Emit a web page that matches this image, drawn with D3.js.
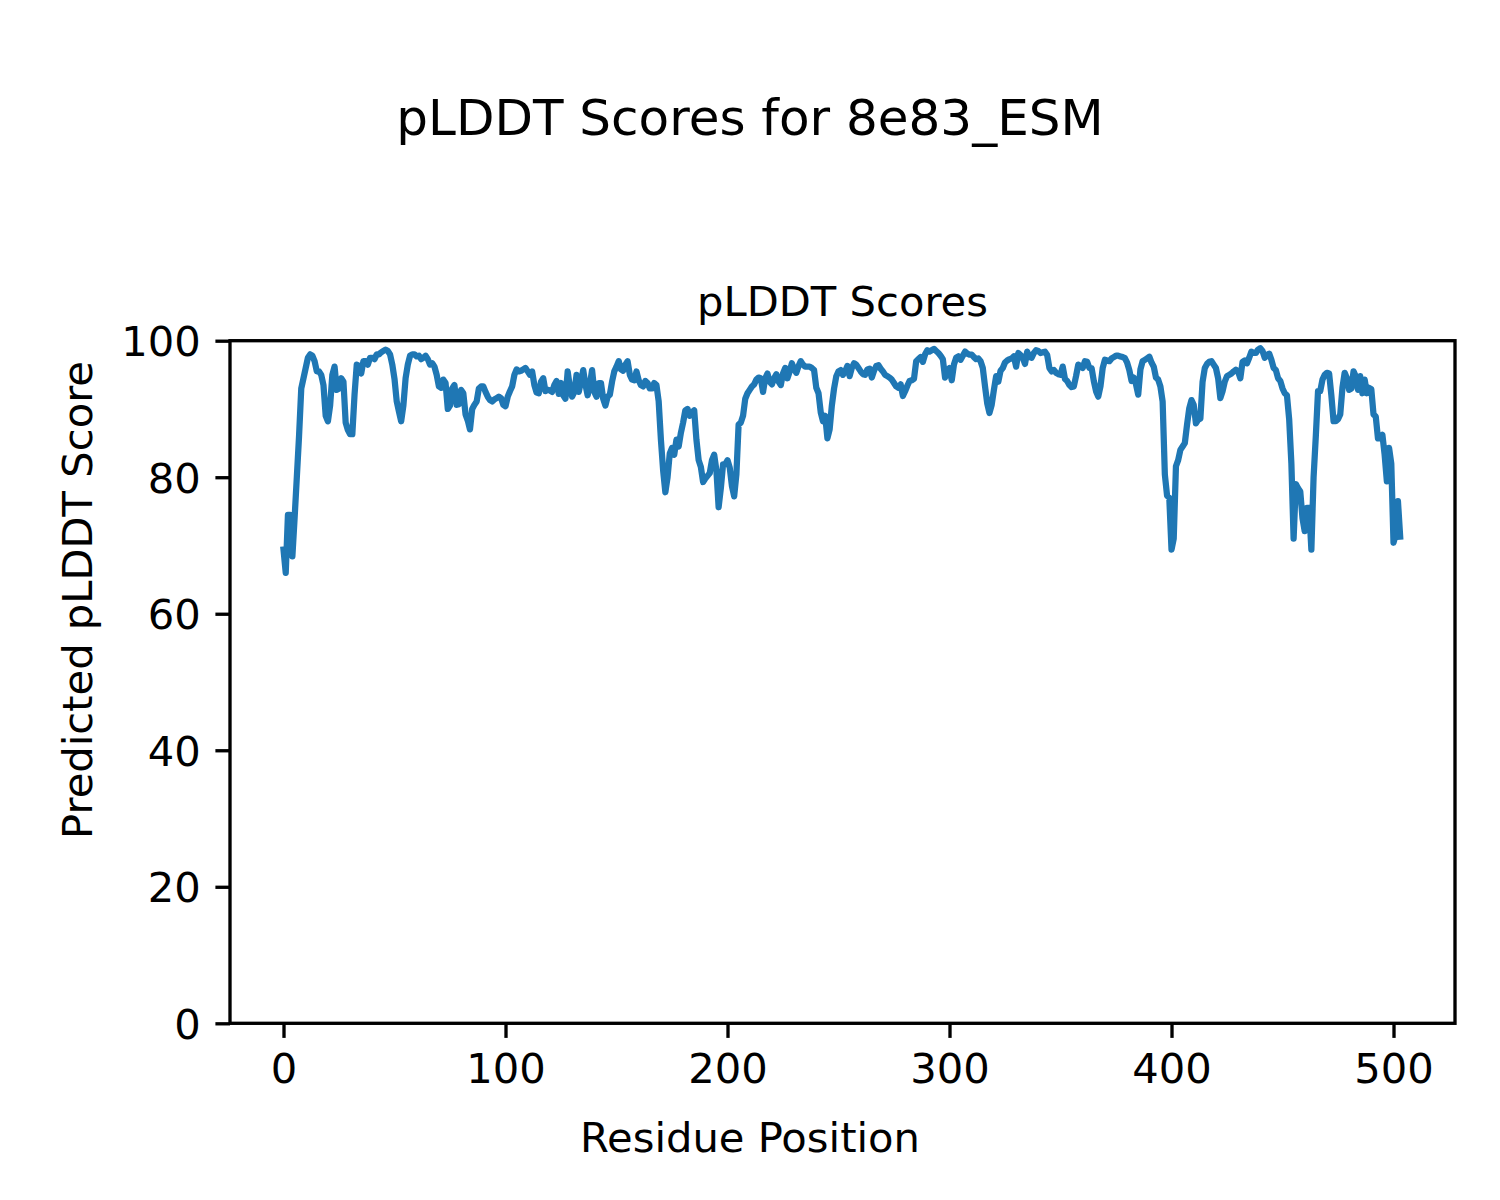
<!DOCTYPE html>
<html>
<head>
<meta charset="utf-8">
<script src="https://cdn.jsdelivr.net/npm/d3@7"></script>
<style>
  html, body { margin: 0; padding: 0; background: #fff; }
  svg { display: block; }
  text { font-family: "DejaVu Sans", sans-serif; fill: #000; }
</style>
</head>
<body>
<svg id="chart" width="1500" height="1200"></svg>
<script>
// ---- data ----
const figureTitle = "pLDDT Scores for 8e83_ESM";
const axesTitle = "pLDDT Scores";
const xLabel = "Residue Position";
const yLabel = "Predicted pLDDT Score";
const xTicks = [0, 100, 200, 300, 400, 500];
const yTicks = [0, 20, 40, 60, 80, 100];
// pLDDT per residue (residue position = array index)
const plddt = [
  69.4, 66.0, 74.5, 74.5, 68.4, 74.0, 80.0, 86.0, 93.0, 94.5,
  96.0, 97.5, 98.0, 97.8, 97.0, 95.5, 95.5, 95.0, 93.5, 89.0,
  88.2, 90.5, 95.0, 96.2, 92.8, 93.0, 94.5, 94.0, 88.0, 86.9,
  86.3, 86.3, 92.1, 96.5, 96.3, 95.2, 97.0, 97.0, 96.5, 97.5,
  97.5, 97.3, 98.0, 98.0, 98.3, 98.5, 98.7, 98.5, 98.0, 96.5,
  94.4, 91.1, 89.6, 88.2, 90.5, 94.5, 96.5, 97.8, 98.0, 98.0,
  97.7, 97.8, 97.3, 97.5, 97.8, 97.3, 96.5, 96.7, 96.2, 95.0,
  93.3, 93.1, 94.3, 93.8, 90.0, 90.5, 93.0, 93.5, 90.6, 90.7,
  92.8, 92.3, 89.2, 88.3, 87.0, 90.0, 90.6, 91.1, 93.0, 93.3,
  93.3, 92.5, 91.8, 91.3, 91.1, 91.4, 91.6, 91.8, 91.6, 90.6,
  90.4, 91.8, 92.6, 93.3, 95.0, 95.8, 95.5, 95.6, 95.8, 96.0,
  95.5, 95.0, 95.5, 93.5, 92.4, 92.3, 94.0, 94.5, 92.6, 92.8,
  92.7, 92.5, 93.5, 94.1, 92.2, 93.8, 92.0, 91.5, 95.5, 93.2,
  91.8, 92.5, 95.0, 92.5, 94.0, 95.7, 93.6, 92.0, 93.5, 95.7,
  92.5, 91.8, 93.8, 93.8, 91.5, 90.5, 91.8, 92.1, 94.0, 95.5,
  96.2, 97.0, 95.8, 95.6, 96.5, 97.0, 95.0, 94.3, 94.2, 95.5,
  94.2, 93.5, 93.3, 94.1, 93.8, 93.0, 93.0, 93.8, 93.5, 91.1,
  85.5, 81.0, 77.8, 80.0, 83.5, 84.3, 83.3, 85.5, 84.5, 86.5,
  88.0, 89.8, 90.0, 89.0, 89.5, 89.8, 85.5, 82.5, 81.5, 79.3,
  79.8, 80.2, 80.6, 82.5, 83.3, 81.0, 75.6, 78.4, 81.9, 81.9,
  82.5, 81.4, 78.7, 77.2, 80.4, 87.7, 88.0, 89.0, 91.5, 92.3,
  92.8, 93.3, 93.6, 94.3, 94.6, 94.5, 92.5, 94.5, 95.2, 94.0,
  93.6, 94.5, 95.1, 94.0, 93.5, 95.2, 96.0, 94.5, 95.5, 96.7,
  95.8, 95.3, 96.3, 97.0, 96.5, 96.2, 96.2, 96.2, 96.0, 95.7,
  93.1, 92.3, 89.5, 88.2, 89.0, 85.7, 87.0, 90.5, 93.0, 94.8,
  95.5, 95.7, 95.0, 95.5, 96.3, 94.8, 96.0, 96.7, 96.5, 96.0,
  95.5, 95.1, 95.0, 95.8, 95.9, 94.6, 95.6, 96.3, 96.4, 95.9,
  95.5, 95.0, 94.8, 94.6, 94.3, 93.8, 93.3, 93.1, 93.6, 91.9,
  92.6, 93.4, 94.1, 94.2, 94.4, 97.0, 97.3, 97.6, 96.9, 98.0,
  98.6, 98.4, 98.6, 98.8, 98.5, 98.2, 97.8, 97.3, 94.6, 95.5,
  96.0, 94.2, 96.5, 97.5, 97.7, 97.2, 97.8, 98.4, 98.1, 97.95,
  97.95, 97.6, 97.3, 97.4, 97.0, 96.0, 93.3, 90.8, 89.4, 90.6,
  92.8, 94.8, 94.0, 95.6, 96.0, 96.8, 97.1, 97.3, 97.4, 97.7,
  96.2, 98.2, 97.9, 97.5, 96.6, 98.4, 97.6, 97.5, 98.2, 98.6,
  98.5, 98.2, 98.3, 98.4, 97.9, 96.0, 95.5, 95.7, 95.3, 95.1,
  95.0, 96.2, 94.4, 94.1, 93.5, 93.2, 93.3, 94.8, 96.5, 96.3,
  96.0, 97.0, 96.9, 96.0, 96.0, 94.1, 92.6, 91.8, 93.3, 96.0,
  97.2, 97.1, 97.0, 97.4, 97.6, 97.8, 97.8, 97.7, 97.6, 97.45,
  96.8, 95.7, 94.1, 94.6, 93.6, 92.1, 95.8, 97.0, 97.2, 97.4,
  97.65, 96.8, 96.2, 94.6, 94.3, 93.3, 91.1, 80.4, 77.3, 77.0,
  69.4, 71.0, 81.6, 82.5, 84.0, 84.5, 85.0, 87.7, 90.1, 91.3,
  90.6, 87.9, 88.4, 88.6, 94.0, 96.0, 96.6, 96.9, 97.0, 96.5,
  96.0, 94.5, 91.6, 92.6, 94.0, 94.8, 95.0, 95.2, 95.5, 95.75,
  95.5, 94.5, 96.9, 97.1, 96.7, 97.5, 98.4, 98.2, 98.2, 98.7,
  98.9, 98.5, 97.5, 97.9, 98.1, 97.2, 96.0, 95.7, 94.5, 94.1,
  93.0, 92.3, 92.0, 88.5, 82.0, 71.0, 79.0, 78.4, 77.9, 74.0,
  72.1, 75.5, 75.5, 69.4, 80.0, 86.0, 92.6, 92.6, 94.3, 95.0,
  95.3, 95.2, 92.0, 88.2, 88.2, 88.5, 89.2, 93.1, 95.3, 94.5,
  92.8, 93.0, 95.5, 94.8, 92.8, 94.8, 92.3, 94.3, 92.3, 93.1,
  92.9, 89.2, 88.9, 85.7, 85.7, 86.2, 83.3, 79.4, 84.3, 82.0,
  70.4, 71.6, 76.5, 71.3
];

// ---- layout ----
const svg = d3.select("#chart");
const plot = { left: 230, right: 1455, top: 340.7, bottom: 1023.3 };
const x = d3.scaleLinear().domain([-24.1, 527.7]).range([plot.left, plot.right]);
const y = d3.scaleLinear().domain([0, 100]).range([plot.bottom, plot.top]);

const fs = 41.67;      // 10pt @300dpi
const tickLen = 14.6;
const spineW = 3.33;

// figure title
svg.append("text").attr("x", 750).attr("y", 135)
  .attr("text-anchor", "middle").attr("font-size", 50).text(figureTitle);

// axes title
svg.append("text").attr("x", (plot.left + plot.right) / 2).attr("y", 315.7)
  .attr("text-anchor", "middle").attr("font-size", fs).text(axesTitle);

// line
const line = d3.line().x((d, i) => x(i)).y(d => y(d));
svg.append("path").datum(plddt)
  .attr("d", line)
  .attr("fill", "none")
  .attr("stroke", "#1f77b4")
  .attr("stroke-width", 6.25)
  .attr("stroke-linejoin", "round")
  .attr("stroke-linecap", "square");

// axes
const xAxis = d3.axisBottom(x).tickValues(xTicks).tickSize(tickLen).tickPadding(14.6).tickFormat(d3.format("d"));
const gx = svg.append("g").attr("transform", `translate(0,${plot.bottom})`).call(xAxis);
const yAxis = d3.axisLeft(y).tickValues(yTicks).tickSize(tickLen).tickPadding(14.6).tickFormat(d3.format("d"));
const gy = svg.append("g").attr("transform", `translate(${plot.left},0)`).call(yAxis);

[gx, gy].forEach(g => {
  g.select(".domain").remove();
  g.selectAll(".tick line").attr("stroke", "#000").attr("stroke-width", spineW);
  g.selectAll(".tick text").attr("font-size", fs).attr("font-family", "DejaVu Sans").attr("fill", "#000");
});
gx.selectAll(".tick text").attr("dy", null).attr("y", tickLen + 14.6 + 30.4);
gy.selectAll(".tick text").attr("dy", null).attr("y", 15.2);

// spines
svg.append("rect")
  .attr("x", plot.left).attr("y", plot.top)
  .attr("width", plot.right - plot.left).attr("height", plot.bottom - plot.top)
  .attr("fill", "none").attr("stroke", "#000").attr("stroke-width", spineW);

// figure-level axis labels (centred on the figure)
svg.append("text").attr("x", 750).attr("y", 1152)
  .attr("text-anchor", "middle").attr("font-size", fs).text(xLabel);
svg.append("text")
  .attr("transform", `translate(92,600) rotate(-90)`)
  .attr("text-anchor", "middle").attr("font-size", fs).text(yLabel);
</script>
</body>
</html>
